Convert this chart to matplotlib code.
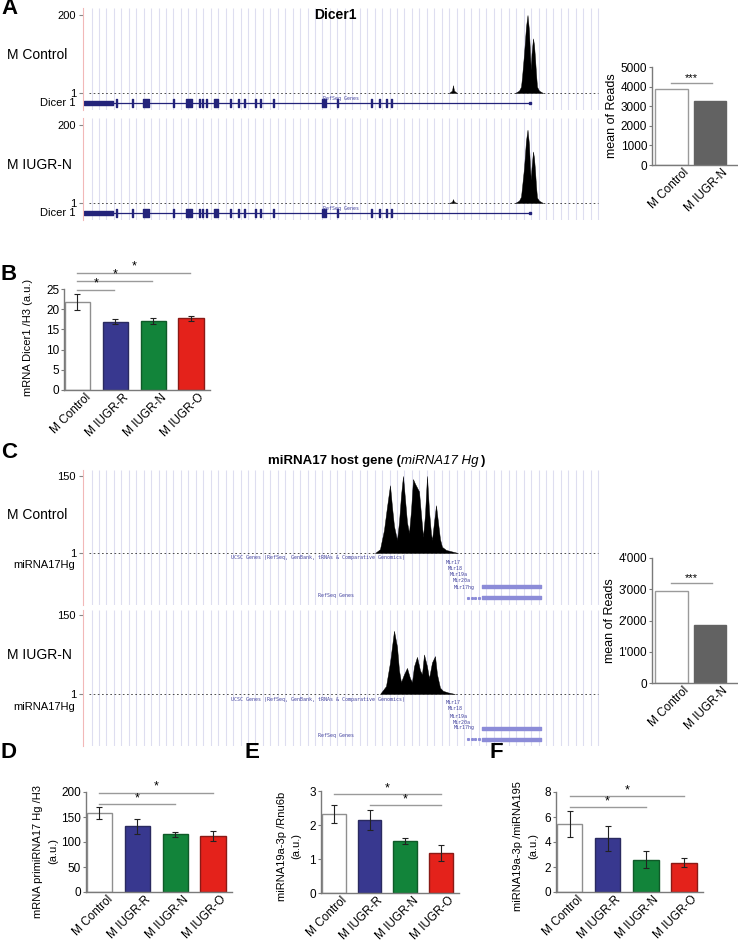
import numpy as np
import matplotlib
matplotlib.use('Agg')
import matplotlib.pyplot as plt
import matplotlib.transforms as mtransforms
from matplotlib.ticker import FuncFormatter

plt.rcParams['font.family'] = ['Liberation Sans', 'DejaVu Sans']

W, H = 738, 942

# ---- data ----
groups = ['M Control', 'M IUGR-R', 'M IUGR-N', 'M IUGR-O']
group_colors = ['white', '#38388f', '#12843a', '#e4221b']
group_edges = ['#8f8f8f', '#2a2a60', '#0f5a28', '#8a1a16']
reads_groups = ['M Control', 'M IUGR-N']
reads_colors = ['white', '#626262']

dicer_reads = [3900, 3240]
mir17_reads = [2960, 1850]

dicer_mrna = [21.7, 16.9, 17.0, 17.7]
dicer_mrna_err = [2.0, 0.6, 0.7, 0.7]
pri_mir17 = [158, 132, 116, 113]
pri_mir17_err = [12, 15, 5, 10]
mir19_rnu6b = [2.33, 2.14, 1.53, 1.18]
mir19_rnu6b_err = [0.27, 0.30, 0.08, 0.23]
mir19_mir195 = [5.45, 4.30, 2.60, 2.35]
mir19_mir195_err = [1.05, 1.00, 0.70, 0.35]

# coverage profiles (position along locus, relative height 0 = "1", 1 = top)
dicer_ctrl_x = [432, 436, 438, 439, 441, 443, 444.5, 446, 447, 447.8, 448.5, 450, 451, 452, 453, 454, 456, 460]
dicer_ctrl_y = [0, 0.03, 0.08, 0.2, 0.5, 0.85, 1.0, 0.8, 0.5, 0.3, 0.5, 0.7, 0.62, 0.45, 0.25, 0.08, 0.03, 0]
dicer_iugr_x = [432, 436, 438, 439, 441, 443, 444.5, 446, 447, 447.8, 448.5, 450, 451, 452, 453, 454, 456, 460]
dicer_iugr_y = [0, 0.03, 0.08, 0.2, 0.45, 0.8, 0.94, 0.75, 0.45, 0.3, 0.45, 0.66, 0.58, 0.42, 0.22, 0.07, 0.03, 0]
dicer_bump_x = [366, 369, 370, 371, 374]
dicer_bump_y = [0, 0.03, 0.1, 0.03, 0]

mir_ctrl_x = [292, 297, 301, 304, 307, 309, 311, 314, 316, 318, 320, 322, 324, 326, 328, 330, 332, 334, 336,
              338, 340, 342, 344, 346, 348, 349, 351, 353, 355, 357, 359, 363, 369, 375]
mir_ctrl_y = [0, 0.05, 0.3, 0.6, 0.88, 0.6, 0.35, 0.17, 0.4, 0.75, 1.0, 0.7, 0.4, 0.26, 0.55, 0.96, 0.9, 0.85,
              0.8, 0.5, 0.21, 0.5, 1.0, 0.55, 0.25, 0.17, 0.4, 0.62, 0.4, 0.18, 0.08, 0.04, 0.02, 0]
mir_iugr_x = [297, 303, 307, 311, 314, 316, 318, 321, 324, 327, 329, 331, 334, 337, 339, 341, 344, 346, 349,
              352, 354, 357, 360, 365, 372]
mir_iugr_y = [0, 0.1, 0.4, 0.8, 0.6, 0.3, 0.15, 0.25, 0.33, 0.2, 0.15, 0.35, 0.47, 0.3, 0.25, 0.5, 0.35, 0.2,
              0.4, 0.48, 0.25, 0.08, 0.04, 0.02, 0]

dicer_utr = [(1, 29)]
dicer_blocks = [(60, 6), (103, 6), (131, 4), (239, 3.5)]
dicer_exons = [33, 49, 90, 116, 119, 123, 147, 155, 161, 172, 177, 190, 254, 288, 296, 303, 308]
dicer_end = 447

mir_names = ['Mir17', 'Mir18', 'Mir19a', 'Mir20a', 'Mir17hg']


def px_rect(x0, y0, x1, y1):
    return [x0 / W, 1 - y1 / H, (x1 - x0) / W, (y1 - y0) / H]


def ftext(x, y, s, **kw):
    return fig.text(x / W, 1 - y / H, s, **kw)


fig = plt.figure(figsize=(W / 100, H / 100), dpi=100)


def track(axes_top, top, base, bottom, toplabel, cov_x, cov_y, extra=None):
    unit = base - top
    ax = fig.add_axes(px_rect(83, axes_top, 600, bottom))
    ax.set_xlim(0, 517)
    ax.set_ylim(-(bottom - base) / unit, 1 + (top - axes_top) / unit)
    ax.vlines(np.arange(8.5, 517, 7.45), *ax.get_ylim(), color='#dedef0', lw=0.8, zorder=0)
    ax.plot([6, 515], [0, 0], color='#333333', lw=0.6, ls=(0, (2, 3)))
    ax.fill_between(cov_x, 0, cov_y, color='black', lw=0.3, edgecolor='black')
    if extra is not None:
        ax.fill_between(extra[0], 0, extra[1], color='black', lw=0.3)
    for s in ['top', 'right', 'bottom']:
        ax.spines[s].set_visible(False)
    ax.spines['left'].set_color('#f2b8b8')
    ax.spines['left'].set_linewidth(0.8)
    ax.set_xticks([])
    ax.set_yticks([0, 1])
    ax.set_yticklabels(['1', toplabel])
    ax.tick_params(axis='y', length=3, color='#888888', labelsize=8, pad=2)
    return ax, unit


def dicer_gene(ax, g):
    ax.plot([1, dicer_end], [g, g], color='#23237a', lw=0.9)
    ax.broken_barh(dicer_utr, (g - 0.03, 0.06), color='#23237a')
    ax.broken_barh(dicer_blocks, (g - 0.055, 0.11), color='#23237a')
    ax.broken_barh([(e, 1.3) for e in dicer_exons], (g - 0.045, 0.09), color='#23237a')
    ax.plot([dicer_end], [g], 's', ms=1.8, color='#23237a')
    ax.text(258, g + 0.06, 'RefSeq Genes', fontsize=3.6, family='DejaVu Sans Mono',
            color='#4646a0', ha='center', va='center')


def mir_gene(ax, unit):
    ax.text(148, -5 / unit, 'UCSC Genes (RefSeq, GenBank, tRNAs & Comparative Genomics)', fontsize=3.6,
            family='DejaVu Sans Mono', color='#4646a0', va='center')
    offs = [9, 15, 22, 28, 34]
    starts = [363, 365, 367, 370, 371]
    for name, o, s in zip(mir_names, offs, starts):
        ax.text(s, -o / unit, name, fontsize=3.6, family='DejaVu Sans Mono', color='#4646a0', va='center')
    ax.broken_barh([(399, 59)], (-35.5 / unit, 3 / unit), color='#8c8cd8')
    ax.broken_barh([(399, 59)], (-46.5 / unit, 3 / unit), color='#8c8cd8')
    ax.plot([385, 388.5, 392, 395.5], [-45 / unit] * 4, 's', ms=1.2, color='#8c8cd8')
    ax.text(235, -42 / unit, 'RefSeq Genes', fontsize=3.6, family='DejaVu Sans Mono',
            color='#4646a0', va='center')


# ---- panel A tracks ----
ax, u = track(8, 15, 93, 110, '200', dicer_ctrl_x, dicer_ctrl_y, (dicer_bump_x, dicer_bump_y))
dicer_gene(ax, -10 / u)
ax, u = track(118, 125, 203, 220, '200', dicer_iugr_x, dicer_iugr_y, (dicer_bump_x, [v * 0.5 for v in dicer_bump_y]))
dicer_gene(ax, -10 / u)

ftext(7, 55, 'M Control', fontsize=10, va='center')
ftext(75, 103, 'Dicer 1', fontsize=8, va='center', ha='right')
ftext(7, 165, 'M IUGR-N', fontsize=10, va='center')
ftext(75, 213, 'Dicer 1', fontsize=8, va='center', ha='right')
ftext(335, 15, 'Dicer1', fontsize=10, weight='bold', ha='center', va='center')

# ---- panel C tracks ----
ax, u = track(470, 476, 553, 605, '150', mir_ctrl_x, mir_ctrl_y)
mir_gene(ax, u)
ax, u = track(610, 615, 694, 746, '150', mir_iugr_x, mir_iugr_y)
mir_gene(ax, u)

ftext(7, 515, 'M Control', fontsize=10, va='center')
ftext(75, 565, 'miRNA17Hg', fontsize=8, va='center', ha='right')
ftext(7, 655, 'M IUGR-N', fontsize=10, va='center')
ftext(75, 707, 'miRNA17Hg', fontsize=8, va='center', ha='right')

# title in three pieces (bold / italic / bold)
renderer = fig.canvas.get_renderer()
pieces = [('miRNA17 host gene (', 'bold', 'normal'), ('miRNA17 Hg', 'normal', 'italic'), (')', 'bold', 'normal')]
x_cur = 268
for txt, wt, st in pieces:
    t = ftext(x_cur, 461, txt, fontsize=9.5, weight=wt, style=st, ha='left', va='center')
    x_cur += t.get_window_extent(renderer).width + (2 if st == 'italic' else 0)


# ---- bar panels ----
def style_axes(ax):
    for s in ['top', 'right']:
        ax.spines[s].set_visible(False)
    for s in ['left', 'bottom']:
        ax.spines[s].set_color('#7a7a7a')
        ax.spines[s].set_linewidth(1.0)
    ax.tick_params(axis='y', length=2.5, color='#7a7a7a', labelsize=8.5, pad=1)
    ax.tick_params(axis='x', length=0, labelsize=8.5, pad=1)


def shift_labels(ax, dx):
    off = mtransforms.ScaledTranslation(dx / 100, 0, fig.dpi_scale_trans)
    for lab in ax.get_xticklabels():
        lab.set_transform(lab.get_transform() + off)


def sig(ax, x0, x1, y, label, fs=9):
    ax.plot([x0, x1], [y, y], color='#9a9a9a', lw=1.0, clip_on=False)
    ax.text((x0 + x1) / 2, y, label, ha='center', va='bottom', fontsize=fs, clip_on=False)


def group_panel(rect, vals, errs, ylim, yticks, sigs, width=0.67):
    ax = fig.add_axes(px_rect(*rect))
    x = np.arange(len(vals))
    ax.bar(x, vals, width=width, color=group_colors, edgecolor=group_edges, lw=1.0)
    ax.errorbar(x, vals, yerr=errs, fmt='none', ecolor='#222222', elinewidth=0.8, capsize=2.5, capthick=0.8)
    ax.set_xlim(-width / 2 - 0.02, 3.5)
    ax.set_ylim(*ylim)
    ax.set_yticks(yticks)
    ax.set_xticks(x)
    ax.set_xticklabels(groups, rotation=45, ha='right', va='top', rotation_mode='anchor')
    style_axes(ax)
    shift_labels(ax, 7)
    for a, b, y in sigs:
        sig(ax, a, b, y, '*')
    return ax


def reads_panel(rect, vals, ylim, yticks, sig_y, fmt=None):
    ax = fig.add_axes(px_rect(*rect))
    x = np.arange(len(vals))
    ax.bar(x, vals, width=0.85, color=reads_colors, edgecolor=['#9a9a9a', '#626262'], lw=1.0)
    ax.set_xlim(-0.5, 1.7)
    ax.set_ylim(*ylim)
    ax.set_yticks(yticks)
    if fmt is not None:
        ax.yaxis.set_major_formatter(FuncFormatter(fmt))
    ax.set_xticks(x)
    ax.set_xticklabels(reads_groups, rotation=45, ha='right', va='top', rotation_mode='anchor')
    style_axes(ax)
    shift_labels(ax, 12)
    sig(ax, 0.0, 1.05, sig_y, '***', fs=8)
    ax.set_ylabel('mean of Reads', fontsize=9, labelpad=2)
    return ax


def thousands(v, pos):
    v = int(v)
    return f"{v // 1000}'{v % 1000:03d}" if v >= 1000 else str(v)


reads_panel((652, 67, 737, 165), dicer_reads, (0, 5000), range(0, 5001, 1000), 4180)
reads_panel((652, 558, 737, 683), mir17_reads, (0, 4000), range(0, 4001, 1000), 3200, thousands)

group_panel((64, 289, 210, 390), dicer_mrna, dicer_mrna_err, (0, 25), range(0, 26, 5),
            [(0, 0.97, 24.8), (0, 1.97, 27.0), (0, 2.97, 29.0)])
ftext(28, 337, 'mRNA Dicer1 /H3 (a.u.)', fontsize=8, rotation=90, ha='center', va='center')

group_panel((86, 792, 232, 892), pri_mir17, pri_mir17_err, (0, 200), range(0, 201, 50),
            [(0, 2, 176), (0, 3, 199)])
ftext(38, 851, 'mRNA primiRNA17 Hg /H3', fontsize=8, rotation=90, ha='center', va='center')
ftext(53, 851, '(a.u.)', fontsize=8, rotation=90, ha='center', va='center')

group_panel((321, 791, 459, 893), mir19_rnu6b, mir19_rnu6b_err, (0, 3), range(0, 4),
            [(0, 3, 2.91), (1, 3, 2.59)])
ftext(282, 846, 'miRNA19a-3p /Rnu6b', fontsize=8, rotation=90, ha='center', va='center')
ftext(296, 846, '(a.u.)', fontsize=8, rotation=90, ha='center', va='center')

group_panel((556, 792, 703, 892), mir19_mir195, mir19_mir195_err, (0, 8), range(0, 9, 2),
            [(0, 2, 6.8), (0, 3, 7.68)])
ftext(518, 846, 'miRNA19a-3p /miRNA195', fontsize=8, rotation=90, ha='center', va='center')
ftext(533, 846, '(a.u.)', fontsize=8, rotation=90, ha='center', va='center')

# panel letters
for letter, (lx, ly) in {'A': (1, 9), 'B': (1, 275), 'C': (1, 452), 'D': (1, 752),
                         'E': (245, 752), 'F': (490, 752)}.items():
    ftext(lx, ly, letter, fontsize=16, weight='bold', va='center')

fig.savefig('out.png', dpi=100)
